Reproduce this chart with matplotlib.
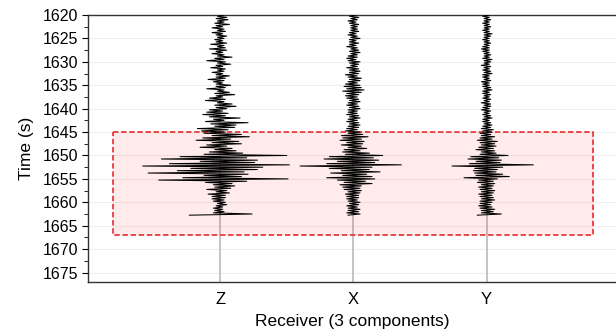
import numpy as np
import matplotlib.pyplot as plt
from matplotlib.patches import Rectangle
from matplotlib.ticker import MultipleLocator

# receiver components and their trace samples (hundredths of a trace spacing),
# one sample every 0.25 s starting at 1620 s
components = ["Z", "X", "Y"]
t_start = 1620.0
dt = 0.25

trace_z = [
    3, -2, 5, -3, 6, -2, 3, -4, 7, -3, 2, -6,
    3, -2, 4, -6, 2, -3, 5, -2, 3, -4, 2, -3,
    5, -7, 3, -2, 4, -8, 5, -3, 2, -6, 3, -2,
    9, -4, 3, -10, 4, -2, 8, -3, 2, -7, 4, -2,
    3, -6, 2, -3, 7, -3, 4, -9, 3, -5, 2, -3,
    8, -3, 4, -10, 3, -2, 7, -4, 11, -3, 2, -8,
    4, -11, 3, -2, 9, -4, 12, -3, 5, -8, 2, -10,
    6, -13, 4, -8, 15, -5, 3, -11, 21, -7, 12, -4,
    11, -17, 6, -14, 4, -12, 16, -6, 22, -13, 8, -18,
    14, -6, 16, -10, 5, -15, 9, -4, 12, -8, 17, -12,
    50, -30, 20, -44, 28, -15, 26, -38, 52, -58, 32, -22,
    28, -32, 18, -54, 21, -12, 16, -28, 51, -46, 20, -11,
    9, -5, 11, -4, 8, -10, 5, -3, 7, -9, 4, -6,
    4, -6, 3, -5, 4, -2, 5, -3, 2, -5, 2, -4,
    3, -5, 24, -23,
]
trace_x = [
    2, -3, 4, -2, 3, -4, 2, -3, 4, -2, 3, -2,
    3, -2, 4, -3, 2, -4, 3, -2, 5, -3, 2, -3,
    4, -3, 2, -5, 3, -2, 4, -3, 5, -2, 3, -4,
    3, -5, 2, -4, 5, -3, 4, -2, 3, -5, 4, -3,
    5, -3, 4, -6, 3, -4, 6, -3, 5, -4, 3, -6,
    5, -7, 6, -5, 8, -8, 6, -5, 4, -6, 3, -5,
    4, -3, 5, -4, 3, -5, 4, -3, 5, -4, 3, -4,
    3, -5, 4, -3, 5, -4, 3, -5, 4, -3, 5, -4,
    4, -5, 3, -6, 5, -4, 7, -9, 11, -8, 6, -10,
    8, -5, 7, -9, 6, -4, 10, -7, 5, -8, 12, -6,
    22, -18, 15, -22, 19, -12, 16, -20, 36, -40, 14, -18,
    12, -9, 20, -17, 10, -8, 14, -20, 16, -12, 9, -7,
    14, -10, 6, -8, 5, -7, 6, -4, 5, -6, 4, -5,
    4, -5, 3, -4, 5, -3, 4, -5, 3, -4, 5, -4,
    4, -5, 5, -4,
]
trace_y = [
    2, -3, 2, -2, 3, -2, 2, -3, 2, -2, 3, -2,
    2, -3, 2, -2, 4, -2, 3, -2, 2, -3, 2, -2,
    3, -2, 2, -3, 2, -4, 2, -3, 2, -2, 3, -2,
    2, -3, 4, -2, 3, -2, 2, -4, 3, -2, 2, -3,
    3, -2, 4, -3, 2, -3, 2, -2, 3, -4, 2, -3,
    2, -3, 3, -2, 4, -3, 2, -3, 3, -2, 2, -3,
    3, -2, 2, -4, 3, -2, 3, -3, 2, -4, 3, -2,
    2, -3, 3, -2, 4, -3, 2, -3, 3, -2, 4, -3,
    3, -4, 5, -3, 4, -5, 3, -4, 6, -5, 4, -7,
    8, -5, 6, -4, 7, -6, 5, -8, 6, -4, 7, -5,
    16, -12, 9, -14, 11, -8, 10, -13, 35, -26, 12, -9,
    8, -10, 7, -9, 12, -8, 17, -17, 8, -6, 5, -7,
    6, -4, 5, -6, 4, -5, 6, -4, 5, -6, 4, -5,
    5, -4, 6, -5, 4, -5, 3, -6, 4, -5, 6, -4,
    5, -4, 11, -7,
]
traces = [trace_z, trace_x, trace_y]

# highlighted window
box_t0, box_t1 = 1645, 1667
box_x0, box_x1 = 0.2, 3.8

plt.rcParams['font.family'] = ['Liberation Sans', 'DejaVu Sans']

fig = plt.figure(figsize=(6.16, 3.34), dpi=100)
ax = fig.add_axes([0.143, 0.156, 0.857, 0.799])

positions = np.arange(1, len(components) + 1)

for pos in positions:
    ax.axvline(pos, color='#c4c4c4', lw=1.4, zorder=1)

ax.add_patch(Rectangle((box_x0, box_t0), box_x1 - box_x0, box_t1 - box_t0,
                       facecolor=(1.0, 0.0, 0.0, 0.08), edgecolor='#e83a3a', lw=1.3,
                       linestyle=(0, (3, 1.5)), zorder=2))

for pos, tr in zip(positions, traces):
    amp = np.array(tr) / 100.0
    t = t_start + dt * np.arange(len(amp))
    ax.plot(pos + amp, t, color='black', lw=0.75, zorder=3)

ax.set_xlim(0.01, 3.97)
ax.set_ylim(1677, 1620)
ax.set_xticks(positions)
ax.set_xticklabels(components)
ax.yaxis.set_major_locator(MultipleLocator(5))
ax.yaxis.set_minor_locator(MultipleLocator(2.5))
ax.grid(axis='y', which='major', color='#eeeeee', lw=0.8, zorder=0)
ax.set_axisbelow(True)

ax.tick_params(axis='x', length=0, labelsize=12, pad=7)
ax.tick_params(axis='y', which='major', length=4, labelsize=11.5, pad=3)
ax.tick_params(axis='y', which='minor', length=3)

for side in ['top', 'left', 'bottom']:
    ax.spines[side].set_color('#333333')
    ax.spines[side].set_linewidth(1.0)
ax.spines['right'].set_visible(False)

ax.set_ylabel('Time (s)', fontsize=12.5, labelpad=6)
ax.set_xlabel('Receiver (3 components)', fontsize=12.5, labelpad=5)

fig.savefig('out.png', dpi=100)
